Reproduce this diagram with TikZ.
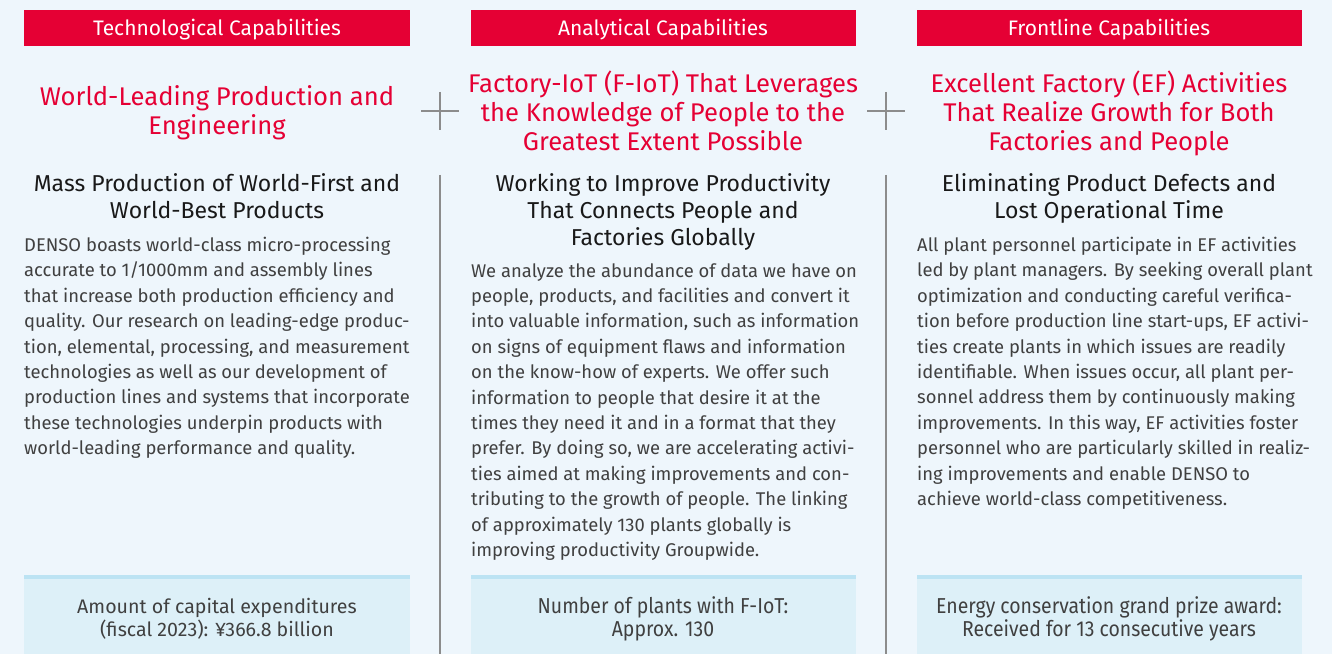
\documentclass[tikz,border=0pt]{standalone}
\usepackage{fontspec}
\setmainfont{Fira Sans}
\newfontfamily\narrowfont{Fira Sans}[FakeStretch=0.9]
\usepackage{xcolor}
\definecolor{densored}{HTML}{E50034}
\definecolor{pagebg}{HTML}{EEF6FC}
\definecolor{factbg}{HTML}{DDF0F8}
\definecolor{factline}{HTML}{BCE3F3}
\definecolor{rulegray}{HTML}{8C8C8C}
\definecolor{bodygray}{HTML}{404040}

\begin{document}
\begin{tikzpicture}[x=1pt,y=-1pt,
	headtext/.style={text=white, font=\fontsize{21}{24}\selectfont, inner sep=0},
	titletext/.style={text=densored, align=center, inner sep=0, font=\fontsize{25.6}{29}\selectfont},
	subtext/.style={text=black!90, align=center, inner sep=0, font=\fontsize{23}{27}\selectfont},
	bodytext/.style={text=bodygray, align=left, inner sep=0, anchor=north west, font=\fontsize{18.4}{25.4}\selectfont},
	facttext/.style={text=bodygray, align=center, inner sep=0, font=\fontsize{19.6}{23.5}\selectfont}]
	\fill[pagebg] (0,0) rectangle (1332,654);
	% headers
	\fill[densored] (24,10) rectangle (410,46);
	\fill[densored] (471,10) rectangle (856,46);
	\fill[densored] (917,10) rectangle (1302,46);
	\node[headtext] (head1) at (217,30) {Technological Capabilities};
	\node[headtext] (head2) at (663,30) {Analytical Capabilities};
	\node[headtext] (head3) at (1109,30) {Frontline Capabilities};
	% titles
	\node[titletext] (title1) at (217,113) {World-Leading Production and\\Engineering};
	\node[titletext] (title2) at (663,111) {Factory-IoT (F-IoT) That Leverages\\the Knowledge of People to the\\Greatest Extent Possible};
	\node[titletext] (title3) at (1109,113) {Excellent Factory (EF) Activities\\That Realize Growth for Both\\Factories and People};
	% plus signs and dividers
	\draw[rulegray, line width=2pt] (421,111)--(459,111) (440,92)--(440,130);
	\draw[rulegray, line width=2pt] (867,111)--(905,111) (886,92)--(886,130);
	\draw[rulegray, line width=1.3pt] (440,175)--(440,654);
	\draw[rulegray, line width=1.3pt] (886,175)--(886,654);
	% subtitles
	\node[subtext] (sub1) at (217,196.5) {Mass Production of World-First and\\World-Best Products};
	\node[subtext] (sub2) at (663,212) {Working to Improve Productivity\\That Connects People and\\Factories Globally};
	\node[subtext] (sub3) at (1109,198.5) {Eliminating Product Defects and\\Lost Operational Time};
	% body text
	\node[bodytext] (body1) at (24,237) {DENSO boasts world-class micro-processing\\
		accurate to 1/1000mm and assembly lines\\
		that increase both production efficiency and\\
		quality. Our research on leading-edge produc-\\
		tion, elemental, processing, and measurement\\
		technologies as well as our development of\\
		production lines and systems that incorporate\\
		these technologies underpin products with\\
		world-leading performance and quality.};
	\node[bodytext] (body2) at (471,263) {We analyze the abundance of data we have on\\
		people, products, and facilities and convert it\\
		into valuable information, such as information\\
		on signs of equipment flaws and information\\
		on the know-how of experts. We offer such\\
		information to people that desire it at the\\
		times they need it and in a format that they\\
		prefer. By doing so, we are accelerating activi-\\
		ties aimed at making improvements and con-\\
		tributing to the growth of people. The linking\\
		of approximately 130 plants globally is\\
		improving productivity Groupwide.};
	\node[bodytext] (body3) at (917,237) {All plant personnel participate in EF activities\\
		led by plant managers. By seeking overall plant\\
		optimization and conducting careful verifica-\\
		tion before production line start-ups, EF activi-\\
		ties create plants in which issues are readily\\
		identifiable. When issues occur, all plant per-\\
		sonnel address them by continuously making\\
		improvements. In this way, EF activities foster\\
		personnel who are particularly skilled in realiz-\\
		ing improvements and enable DENSO to\\
		achieve world-class competitiveness.};
	% fact boxes
	\fill[factbg] (24,576) rectangle (410,654);
	\fill[factbg] (471,576) rectangle (856,654);
	\fill[factbg] (917,576) rectangle (1302,654);
	\draw[factline, line width=3.5pt] (24,577)--(410,577);
	\draw[factline, line width=3.5pt] (471,577)--(856,577);
	\draw[factline, line width=3.5pt] (917,577)--(1302,577);
	\node[facttext] (fact1) at (217,619) {Amount of capital expenditures\\(fiscal 2023): ¥366.8 billion};
	\node[facttext, font=\narrowfont\fontsize{21.6}{23.5}\selectfont] (fact2) at (663,619) {Number of plants with F-IoT:\\Approx. 130};
	\node[facttext, font=\narrowfont\fontsize{21.6}{23.5}\selectfont] (fact3) at (1109,619) {Energy conservation grand prize award:\\Received for 13 consecutive years};
\end{tikzpicture}
\end{document}
